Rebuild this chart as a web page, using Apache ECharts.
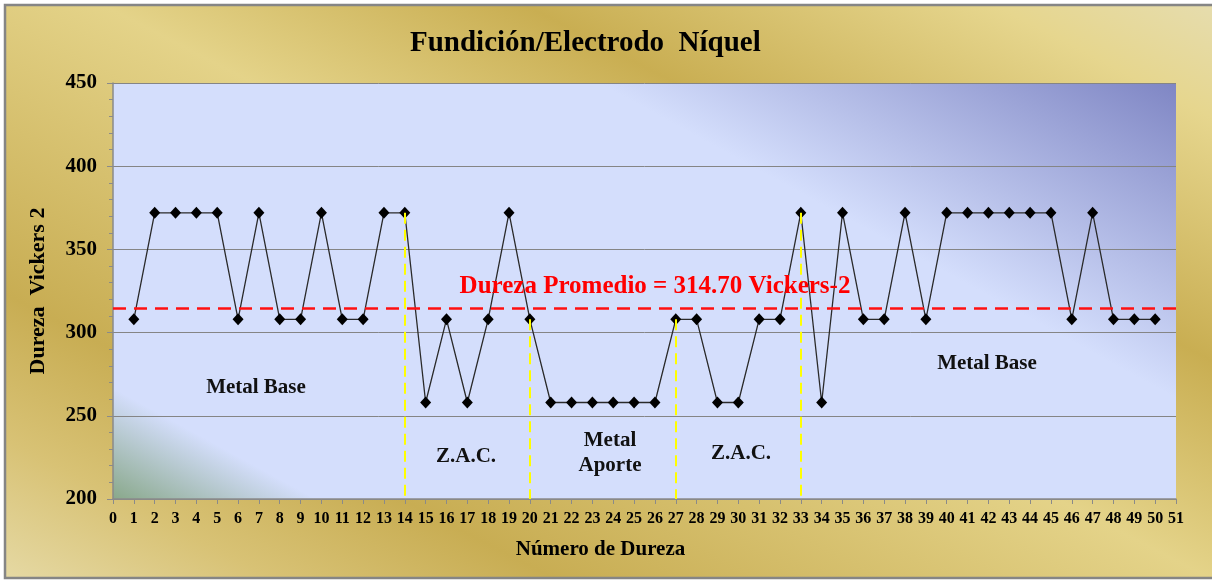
<!DOCTYPE html>
<html>
<head>
<meta charset="utf-8">
<title>Fundición/Electrodo Níquel</title>
<script src="https://cdn.jsdelivr.net/npm/echarts@6/dist/echarts.min.js"></script>
<style>
  html, body { margin: 0; padding: 0; background: #ffffff; }
  #chart { width: 1212px; height: 581px; }
</style>
</head>
<body>
<div id="chart"></div>
<script>
// Hardness readings along the traverse (Vickers-2)
const pointNumbers = [
  1, 2, 3, 4, 5, 6, 7, 8, 9, 10,
  11, 12, 13, 14, 15, 16, 17, 18, 19, 20,
  21, 22, 23, 24, 25, 26, 27, 28, 29, 30,
  31, 32, 33, 34, 35, 36, 37, 38, 39, 40,
  41, 42, 43, 44, 45, 46, 47, 48, 49, 50
];
const hardness = [
  308, 372, 372, 372, 372, 308, 372, 308, 308, 372,
  308, 308, 372, 372, 258, 308, 258, 308, 372, 308,
  258, 258, 258, 258, 258, 258, 308, 308, 258, 258,
  308, 308, 372, 258, 372, 308, 308, 372, 308, 372,
  372, 372, 372, 372, 372, 308, 372, 308, 308, 308
];
const averageHardness = 314.70;
// Points where the zone changes (base metal / HAZ / filler metal)
const zoneBoundaries = [14, 20, 27, 33];
const zoneNames = ['Metal Base', 'Z.A.C.', 'Metal\nAporte', 'Z.A.C.', 'Metal Base'];

const xMin = 0, xMax = 51, yMin = 200, yMax = 450;

const SERIF = "'Liberation Serif', 'Times New Roman', serif";

const seriesData = pointNumbers.map((n, i) => [n, hardness[i]]);
const dropLines = zoneBoundaries.map(n => [
  { coord: [n, hardness[n - 1]] },
  { coord: [n, yMin] }
]);

const chart = echarts.init(document.getElementById('chart'), null, { renderer: 'canvas' });

// Gold frame behind everything
const frameFill = new echarts.graphic.LinearGradient(-0.004, 1.005, 0.403, -0.658, [
  { offset: 0.00, color: '#e6daa6' },
  { offset: 0.12, color: '#d8c275' },
  { offset: 0.24, color: '#c8ad53' },
  { offset: 0.52, color: '#e4d389' },
  { offset: 0.70, color: '#c9ae52' },
  { offset: 0.90, color: '#e6d68e' },
  { offset: 1.00, color: '#e6ddb0' }
]);

// Plot area: pale blue with a violet glow top-right and a green tint bottom-left
const plotFill = new echarts.graphic.LinearGradient(1, 0, 0.604, 1.853, [
  { offset: 0.00, color: '#7f86c4' },
  { offset: 0.315, color: '#d4defc' },
  { offset: 0.885, color: '#d4defc' },
  { offset: 1.00, color: '#86a686' }
]);

const zoneLabel = (text, x, y) => ({
  type: 'text',
  z: 50,
  style: {
    text: text,
    x: x,
    y: y,
    textAlign: 'center',
    textVerticalAlign: 'middle',
    fill: '#111111',
    font: 'bold 21px ' + SERIF,
    lineHeight: 25
  }
});

chart.setOption({
  animation: false,
  backgroundColor: '#ffffff',
  title: {
    text: 'Fundición/Electrodo  Níquel',
    left: 410,
    top: 29,
    padding: 0,
    textStyle: {
      fontFamily: SERIF,
      fontSize: 29,
      fontWeight: 'bold',
      color: '#000000'
    }
  },
  graphic: [
    {
      type: 'rect',
      z: -100,
      shape: { x: 5, y: 5, width: 1215, height: 573 },
      style: { fill: frameFill, stroke: '#858585', lineWidth: 2.5 }
    },
    zoneLabel(zoneNames[0], 256, 388),
    zoneLabel(zoneNames[1], 466, 457),
    zoneLabel(zoneNames[2], 610, 453),
    zoneLabel(zoneNames[3], 741, 454),
    zoneLabel(zoneNames[4], 987, 364)
  ],
  grid: {
    left: 113,
    right: 36,
    top: 83,
    bottom: 82,
    show: true,
    backgroundColor: plotFill,
    borderWidth: 0
  },
  xAxis: {
    type: 'value',
    min: xMin,
    max: xMax,
    interval: 1,
    name: 'Número de Dureza',
    nameLocation: 'middle',
    nameGap: 40,
    nameTextStyle: {
      fontFamily: SERIF,
      fontSize: 21,
      fontWeight: 'bold',
      color: '#000000',
      padding: [0, 88, 0, 0]
    },
    axisLine: { show: true, lineStyle: { color: '#8a8a8a', width: 1.5 } },
    axisTick: { show: true, length: 5, lineStyle: { color: '#8a8a8a' } },
    axisLabel: {
      margin: 12,
      fontFamily: SERIF,
      fontSize: 16,
      fontWeight: 'bold',
      color: '#000000'
    },
    splitLine: { show: false }
  },
  yAxis: {
    type: 'value',
    min: yMin,
    max: yMax,
    interval: 50,
    name: 'Dureza  Vickers 2',
    nameLocation: 'middle',
    nameGap: 64,
    nameTextStyle: {
      fontFamily: SERIF,
      fontSize: 22,
      fontWeight: 'bold',
      color: '#000000'
    },
    axisLine: { show: true, lineStyle: { color: '#8a8a8a', width: 1.5 } },
    axisTick: { show: true, length: 6, lineStyle: { color: '#8a8a8a' } },
    minorTick: { show: true, splitNumber: 5, length: 4, lineStyle: { color: '#8a8a8a' } },
    axisLabel: {
      margin: 16,
      fontFamily: SERIF,
      fontSize: 21,
      fontWeight: 'bold',
      color: '#000000'
    },
    splitLine: { show: true, lineStyle: { color: '#858585', width: 1 } }
  },
  series: [
    {
      name: 'Dureza',
      type: 'line',
      data: seriesData,
      z: 3,
      symbol: 'diamond',
      symbolSize: [11, 12],
      itemStyle: { color: '#000000' },
      lineStyle: { color: '#2a2a2a', width: 1.3 }
    },
    {
      name: 'Límites de zona',
      type: 'line',
      data: [],
      z: 4,
      markLine: {
        silent: true,
        symbol: 'none',
        label: { show: false },
        lineStyle: { color: '#ffff00', width: 2, type: [11, 6] },
        data: dropLines
      }
    },
    {
      name: 'Dureza Promedio',
      type: 'line',
      data: [],
      z: 5,
      markLine: {
        silent: true,
        symbol: 'none',
        lineStyle: { color: '#ff1010', width: 2.5, type: [13, 8] },
        label: {
          show: true,
          position: 'insideMiddleTop',
          distance: 9,
          formatter: 'Dureza Promedio = ' + averageHardness.toFixed(2) + ' Vickers-2',
          fontFamily: SERIF,
          fontSize: 25,
          fontWeight: 'bold',
          color: '#ff0000',
          padding: [0, 0, 0, 21]
        },
        data: [{ yAxis: averageHardness }]
      }
    }
  ]
});
</script>
</body>
</html>
